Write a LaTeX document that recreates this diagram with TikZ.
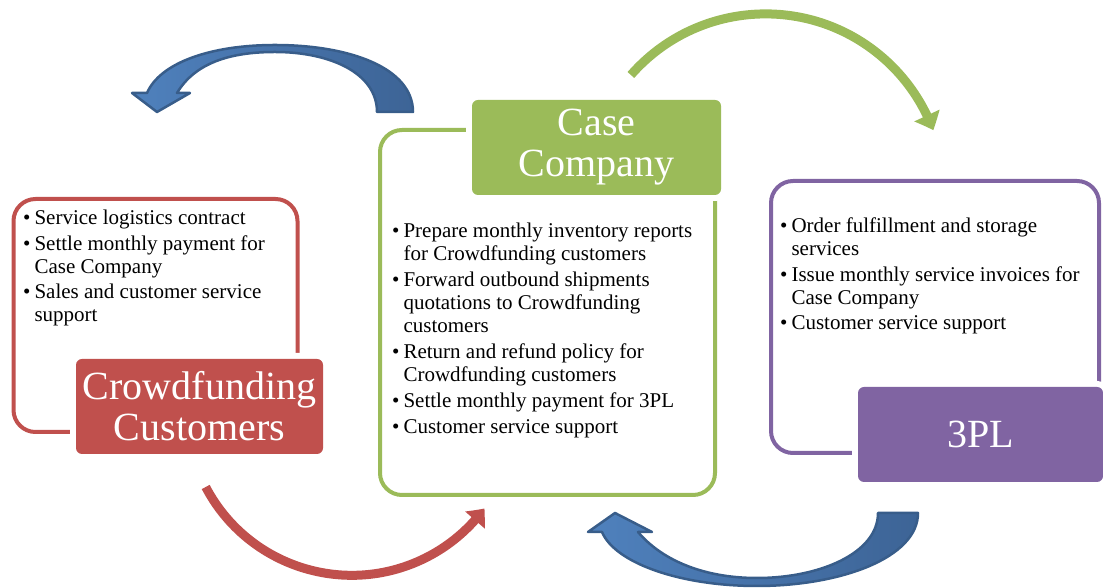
\documentclass[tikz,border=0pt]{standalone}
\usepackage{fontspec}
\setmainfont{Liberation Serif}
\usetikzlibrary{arrows.meta,bending}
\definecolor{cred}{HTML}{C0504D}
\definecolor{cgreen}{HTML}{9BBB59}
\definecolor{cpurple}{HTML}{8064A2}
\definecolor{cblueL}{HTML}{4F81BD}
\definecolor{cblueD}{HTML}{3D6496}
\definecolor{cblueO}{HTML}{385D8A}
\begin{document}
\begin{tikzpicture}[x=1pt,y=1pt,
  outl/.style={line width=4pt, rounded corners=22pt},
  tbox/.style={rounded corners=6pt, fill=#1, text=white, font=\fontsize{40}{41}\selectfont,
    align=center, inner sep=0pt, preaction={draw=white,line width=12pt}},
  lst/.style={anchor=base west, inner sep=0pt, font=\fontsize{21}{23}\selectfont, text=black},
  curvarrow/.style={line width=9pt, draw=#1, -{Triangle[width=27pt,length=16pt,bend]}},
  blockarrow/.style={left color=cblueL, right color=cblueD, draw=cblueO, line width=2.5pt, line join=round}
]
\useasboundingbox (0,0) rectangle (1103,588);

% outline boxes
\draw[outl, draw=cred] (13.5,156) rectangle (297.5,389);
\draw[outl, draw=cgreen] (380,93) rectangle (715,458);
\draw[outl, draw=cpurple] (771,135) rectangle (1099,407);

% title boxes
\node[tbox=cred, minimum width=247pt, minimum height=95pt] (crowd) at (199.5,181.5) {Crowdfunding\\Customers};
\node[tbox=cgreen, minimum width=249pt, minimum height=95pt] (case) at (596.5,440.5) {\raisebox{-3pt}{\begin{tabular}{@{}c@{}}Case\\Company\end{tabular}}};
\node[tbox=cpurple, minimum width=245pt, minimum height=95pt] (tpl) at (980.5,153.5) {3PL};

% lists
\node[lst] (crowdlist) at (23,363) {\begin{tabular}[t]{@{}l@{\hspace{4pt}}l@{}}
\textbullet & Service logistics contract\\[2.5pt]
\textbullet & Settle monthly payment for\\
 & Case Company\\[2.5pt]
\textbullet & Sales and customer service\\
 & support
\end{tabular}};
\node[lst] (caselist) at (392,350) {\begin{tabular}[t]{@{}l@{\hspace{4pt}}l@{}}
\textbullet & Prepare monthly inventory reports\\
 & for Crowdfunding customers\\[3pt]
\textbullet & Forward outbound shipments\\
 & quotations to Crowdfunding\\
 & customers\\[3pt]
\textbullet & Return and refund policy for\\
 & Crowdfunding customers\\[3pt]
\textbullet & Settle monthly payment for 3PL\\[3pt]
\textbullet & Customer service support
\end{tabular}};
\node[lst] (tpllist) at (780,355) {\begin{tabular}[t]{@{}l@{\hspace{4pt}}l@{}}
\textbullet & Order fulfillment and storage\\
 & services\\[2.5pt]
\textbullet & Issue monthly service invoices for\\
 & Case Company\\[2.5pt]
\textbullet & Customer service support
\end{tabular}};

% green arrow (Case Company -> 3PL)
\coordinate (gs) at (630.9,513.0);
\draw[curvarrow=cgreen] (gs) arc[start angle=138.8, end angle=20.5, radius=179];

% red arrow (Crowdfunding -> Case Company)
\coordinate (rs) at (205.7,101.0);
\draw[curvarrow=cred, -{Triangle[width=25pt,length=15pt,bend]}] (rs) arc[start angle=207.7, end angle=323.5, radius=165];

% blue block arrow top-left (Case Company -> Crowdfunding)
\path[blockarrow] (413,476) .. controls (413,520) and (350,543) .. (275,543)
  .. controls (210,543) and (160,525) .. (147,495) -- (132,495) -- (157,476) -- (190,495) -- (177,495)
  .. controls (195,525) and (230,536) .. (275,536)
  .. controls (330,536) and (377,515) .. (377,476) -- cycle;

% blue block arrow bottom (3PL -> Case Company)
\path[blockarrow] (918,75) .. controls (918,30) and (840,2) .. (757,2)
  .. controls (680,2) and (615,25) .. (602,56) -- (588,56) -- (615,75) -- (652,56) -- (638,56)
  .. controls (660,30) and (700,10) .. (757,10)
  .. controls (820,10) and (878,35) .. (878,75) -- cycle;
\end{tikzpicture}
\end{document}
